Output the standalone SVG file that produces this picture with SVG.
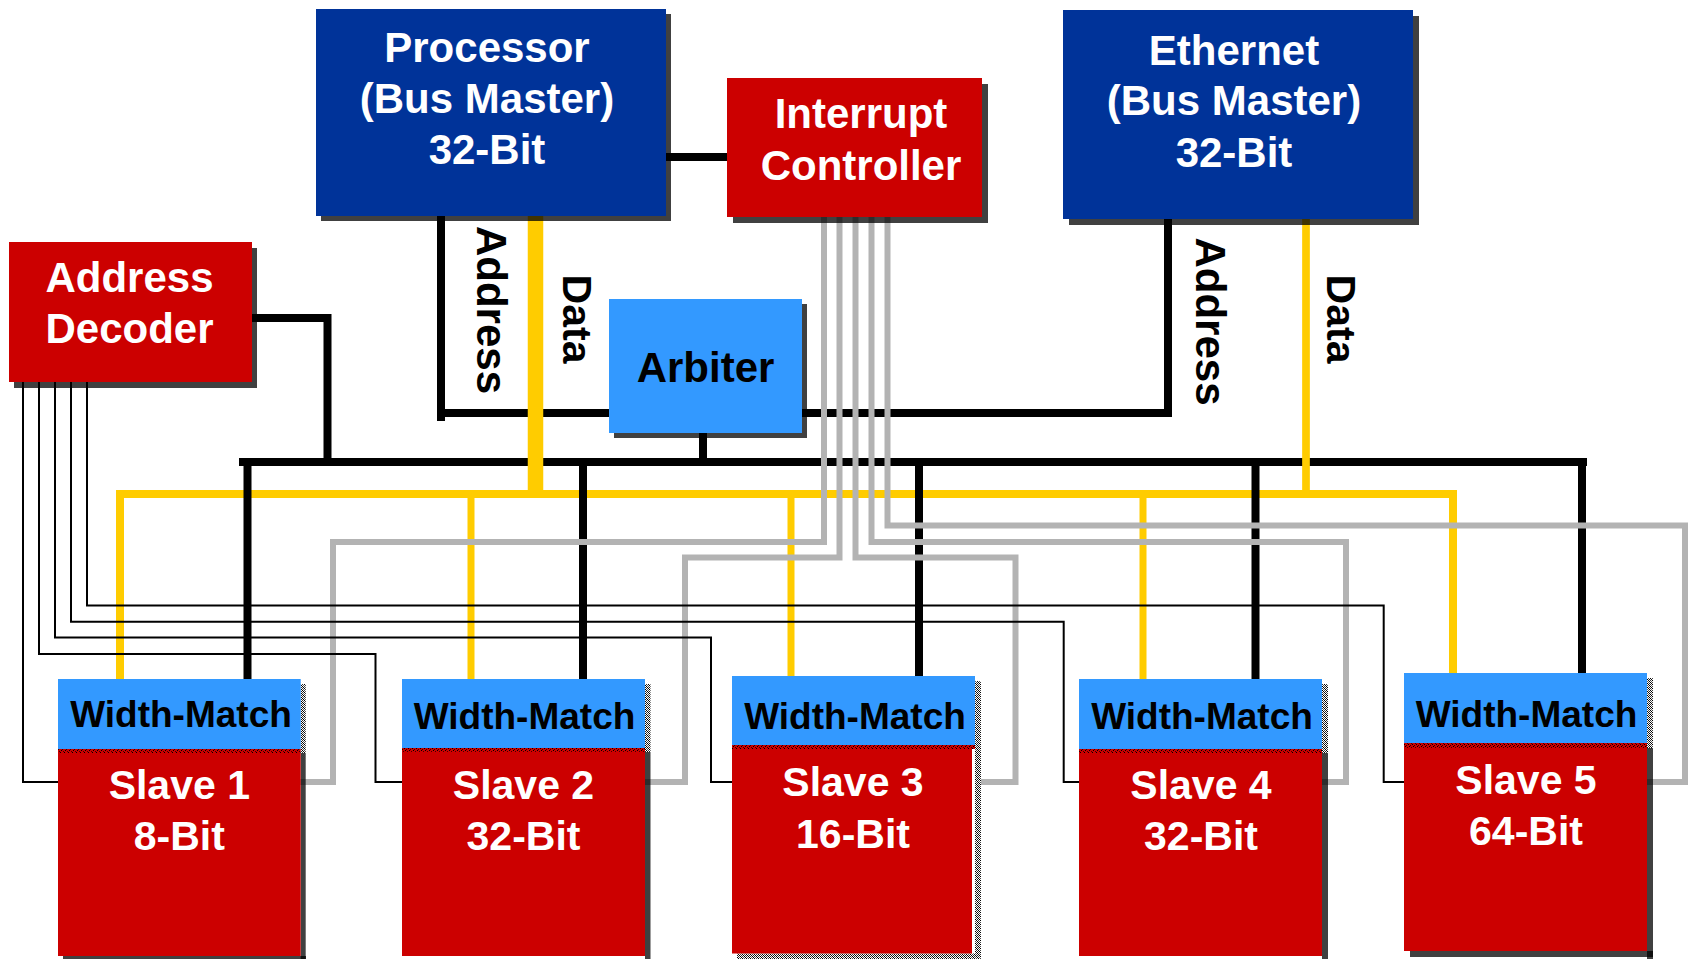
<svg xmlns="http://www.w3.org/2000/svg" width="1691" height="959" viewBox="0 0 1691 959">
<defs>
<pattern id="dither" width="4" height="4" patternUnits="userSpaceOnUse">
<rect width="4" height="4" fill="#ffffff"/>
<rect x="0" y="0" width="1" height="1" fill="#000"/><rect x="2" y="0" width="1" height="1" fill="#333"/>
<rect x="1" y="1" width="1" height="1" fill="#000"/><rect x="3" y="1" width="1" height="1" fill="#555"/>
<rect x="0" y="2" width="1" height="1" fill="#444"/><rect x="2" y="2" width="1" height="1" fill="#000"/>
<rect x="1" y="3" width="1" height="1" fill="#222"/><rect x="3" y="3" width="1" height="1" fill="#000"/>
</pattern>
<pattern id="rdither" width="4" height="4" patternUnits="userSpaceOnUse">
<rect width="4" height="4" fill="#cc0000"/>
<rect x="0" y="0" width="1" height="1" fill="#000"/><rect x="2" y="1" width="1" height="1" fill="#300"/>
<rect x="1" y="2" width="1" height="1" fill="#000"/><rect x="3" y="3" width="1" height="1" fill="#400"/>
</pattern>
</defs>
<style>
.shadow{fill:#000;fill-opacity:0.75}
.dk{fill:#003399}
.red{fill:#cc0000}
.lb{fill:#3399ff}
.t{font-family:"Liberation Sans",Arial,sans-serif;font-weight:bold;text-anchor:middle}
.w{fill:#ffffff}
.b{fill:#000000}
.h{font-size:42px}
.wm{font-size:37px}
.s{font-size:41px}
.blk{fill:none;stroke:#000;stroke-width:8;stroke-linejoin:miter}
.yel{fill:none;stroke:#ffcc00;stroke-width:8;stroke-linejoin:miter}
.gry{fill:none;stroke:#b3b3b3;stroke-width:6;stroke-linejoin:miter}
.thin{fill:none;stroke:#000;stroke-width:2;stroke-linejoin:miter}
</style>
<rect width="1691" height="959" fill="#ffffff"/>
<g id="connectors">
<path class="yel" d="M120,679 V494 H1453 V673"/>
<path class="yel" d="M471,494 V679 M791,494 V676 M1143,494 V679" style="stroke-width:7"/>
<path class="blk" d="M666,157 H727"/>
<path class="blk" d="M441,216 V421 M441,413 H609"/>
<path class="blk" d="M252,318 H327.5 V462"/>
<path class="blk" d="M703,433 V462"/>
<path class="blk" d="M802,413 H1168 V219"/>
<path class="blk" d="M239,462 H1587"/>
<path class="blk" d="M247.5,462 V679 M583,462 V679 M919,462 V676 M1255.5,462 V679 M1582,462 V673"/>
<path class="yel" d="M535.5,216 V497" style="stroke-width:15.5"/>
<path class="yel" d="M1306,219 V494" style="stroke-width:7.7"/>
<path class="gry" d="M824,217 V542 H333 V782 H300"/>
<path class="gry" d="M839.5,217 V557.5 H685 V782 H645"/>
<path class="gry" d="M855.5,217 V557.5 H1015.5 V782 H975"/>
<path class="gry" d="M871.5,217 V542 H1346 V782 H1322"/>
<path class="gry" d="M887.5,217 V525.5 H1685 V782 H1647"/>
<path class="thin" d="M23,382 V782 H58"/>
<path class="thin" d="M39,382 V654 H375.5 V782 H402"/>
<path class="thin" d="M55,382 V637.6 H711 V782 H732"/>
<path class="thin" d="M71,382 V621.8 H1063.7 V782 H1079"/>
<path class="thin" d="M87,382 V605.6 H1383.7 V782 H1404"/>
</g>
<g id="processor">
<rect class="shadow" x="321" y="14" width="350" height="207"/>
<rect class="dk" x="316" y="9" width="350" height="207"/>
<text class="t w h" x="487" y="62">Processor</text>
<text class="t w h" x="487" y="113">(Bus Master)</text>
<text class="t w h" x="487" y="164">32-Bit</text>
<text class="t b h" transform="translate(477,310) rotate(90)">Address</text>
<text class="t b h" style="font-size:41px" transform="translate(563,319) rotate(90)">Data</text>
</g>
<g id="interrupt-controller">
<rect class="shadow" x="733" y="84" width="255" height="139"/>
<rect class="red" x="727" y="78" width="255" height="139"/>
<text class="t w h" x="861" y="128">Interrupt</text>
<text class="t w h" x="861" y="180">Controller</text>
</g>
<g id="ethernet">
<rect class="shadow" x="1069" y="16" width="350" height="209"/>
<rect class="dk" x="1063" y="10" width="350" height="209"/>
<text class="t w h" x="1234" y="65">Ethernet</text>
<text class="t w h" x="1234" y="115">(Bus Master)</text>
<text class="t w h" x="1234" y="167">32-Bit</text>
<text class="t b h" transform="translate(1196,321.5) rotate(90)">Address</text>
<text class="t b h" style="font-size:41px" transform="translate(1327,319) rotate(90)">Data</text>
</g>
<g id="address-decoder">
<rect class="shadow" x="14" y="248" width="243" height="140"/>
<rect class="red" x="9" y="242" width="243" height="140"/>
<text class="t w h" x="129.5" y="292">Address</text>
<text class="t w h" x="129.5" y="343">Decoder</text>
</g>
<g id="arbiter">
<rect class="shadow" x="614" y="304" width="193" height="134"/>
<rect class="lb" x="609" y="299" width="193" height="134"/>
<text class="t b h" x="705.5" y="382">Arbiter</text>
</g>
<g id="slave1">
<rect fill="url(#dither)" x="300.7" y="684" width="5" height="69"/>
<rect class="shadow" x="300.7" y="753" width="5" height="206"/>
<rect class="shadow" x="63" y="956" width="243" height="3"/>
<rect class="lb" x="58" y="679" width="242.7" height="70"/>
<rect fill="url(#rdither)" x="58" y="749" width="242.7" height="4"/>
<rect class="red" x="58" y="753" width="242.7" height="203"/>
<text class="t b wm" x="181" y="727">Width-Match</text>
<text class="t w s" x="179.3" y="799">Slave 1</text>
<text class="t w s" x="179.3" y="850">8-Bit</text>
</g>
<g id="slave2">
<rect fill="url(#dither)" x="645" y="684" width="5.5" height="68"/>
<rect class="shadow" x="645" y="752" width="5.5" height="207"/>
<rect class="lb" x="402" y="679" width="243" height="69"/>
<rect fill="url(#rdither)" x="402" y="748" width="243" height="4"/>
<rect class="red" x="402" y="752" width="243" height="204"/>
<text class="t b wm" x="524.5" y="729">Width-Match</text>
<text class="t w s" x="523.5" y="799">Slave 2</text>
<text class="t w s" x="523.5" y="850">32-Bit</text>
</g>
<g id="slave3">
<rect fill="url(#dither)" x="975" y="681" width="6" height="278"/>
<rect fill="url(#dither)" x="737" y="953.5" width="244" height="5.5"/>
<rect class="lb" x="732" y="676" width="243" height="69"/>
<rect fill="url(#rdither)" x="732" y="745" width="243" height="4"/>
<rect class="red" x="732" y="749" width="240" height="204.5"/>
<text class="t b wm" x="855" y="729">Width-Match</text>
<text class="t w s" x="853" y="796">Slave 3</text>
<text class="t w s" x="853" y="848">16-Bit</text>
</g>
<g id="slave4">
<rect fill="url(#dither)" x="1322" y="684" width="6" height="69"/>
<rect class="shadow" x="1322" y="753" width="6" height="206"/>
<rect class="lb" x="1079" y="679" width="243" height="70"/>
<rect fill="url(#rdither)" x="1079" y="749" width="243" height="4"/>
<rect class="red" x="1079" y="753" width="243" height="203"/>
<text class="t b wm" x="1202" y="729">Width-Match</text>
<text class="t w s" x="1201" y="799">Slave 4</text>
<text class="t w s" x="1201" y="850">32-Bit</text>
</g>
<g id="slave5">
<rect fill="url(#dither)" x="1647" y="678" width="6" height="70"/>
<rect class="shadow" x="1647" y="748" width="6" height="211"/>
<rect class="shadow" x="1410" y="951" width="243" height="6"/>
<rect class="lb" x="1404" y="673" width="243" height="70"/>
<rect fill="url(#rdither)" x="1404" y="743" width="243" height="5"/>
<rect class="red" x="1404" y="748" width="243" height="203"/>
<text class="t b wm" x="1526.5" y="727">Width-Match</text>
<text class="t w s" x="1526" y="794">Slave 5</text>
<text class="t w s" x="1526" y="845">64-Bit</text>
</g>
</svg>
